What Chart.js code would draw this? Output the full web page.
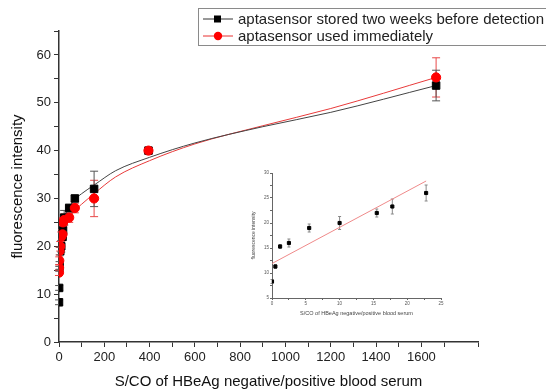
<!DOCTYPE html>
<html>
<head>
<meta charset="utf-8">
<script src="https://cdn.jsdelivr.net/npm/chart.js@4.4.1/dist/chart.umd.min.js"></script>
<style>
  html, body { margin: 0; padding: 0; background: #fff; }
  #wrap { position: relative; width: 546px; height: 391px; }
  #mainChart { position: absolute; left: 0; top: 0; }
  #insetChart { position: absolute; left: 246px; top: 166px; }
</style>
</head>
<body>
<div id="wrap">
  <canvas id="mainChart" width="546" height="391"></canvas>
  <canvas id="insetChart" width="200" height="156"></canvas>
</div>
<script>
// S/CO values of the serum samples
const sco = [0, 0.5, 1.2, 2.5, 5.5, 10, 15.5, 17.8, 22.8, 45, 70, 155, 395, 1665];
// fluorescence, aptasensor stored two weeks
const storedY = [8.3, 11.3, 15.3, 16, 19, 20, 22, 23.3, 26, 28, 30, 32, 40, 53.6];
const storedErr = [0.5, 0.5, 0.5, 0.8, 0.8, 1.2, 0.8, 1.5, 1.5, 0.8, 0.6, 3.7, 0.6, 3.2];
// fluorescence, aptasensor used immediately
const freshY = [14.5, 15.5, 17, 19, 20, 22, 22.5, 25, 25.5, 26, 28, 30, 40, 55.3];
const freshErr = [0.6, 0.6, 0.8, 0.8, 1, 1, 1, 1, 1.2, 1, 1, 3.8, 0.6, 4.1];

// fitted curves
const fitX = [20, 45, 70, 100, 155, 250, 400, 600, 900, 1200, 1665];
const storedFit = [25.8, 28.2, 29.8, 31, 32.8, 35.8, 38.6, 41.6, 45, 48, 53.6];
const freshFit = [23, 25.8, 27.5, 28.8, 31, 34.5, 37.9, 41.4, 45.2, 48.8, 55.3];

// inset: low S/CO range
const insetX = [0, 0.5, 1.2, 2.5, 5.5, 10, 15.5, 17.8, 22.8];
const insetY = [8.3, 11.3, 15.3, 16, 19, 20, 22, 23.3, 26];
const insetErr = [0.4, 0.4, 0.4, 0.8, 0.8, 1.3, 0.8, 1.5, 1.6];
const insetLineX = [0, 22.8];
const insetLineY = [11.9, 28.4];

const FONT = "'Liberation Sans', Arial, sans-serif";

function pts(xs, ys) {
  return xs.map((x, i) => ({ x: x, y: ys[i] }));
}

// error bars drawn under the markers
const errorBars = {
  id: 'errorBars',
  beforeDatasetsDraw(chart) {
    const ctx = chart.ctx;
    const ys = chart.scales.y;
    chart.data.datasets.forEach((ds, i) => {
      if (!ds.errors) return;
      const meta = chart.getDatasetMeta(i);
      ctx.save();
      ctx.strokeStyle = ds.errorColor;
      ctx.lineWidth = 1;
      meta.data.forEach((pt, j) => {
        const v = ds.data[j].y, e = ds.errors[j];
        const top = ys.getPixelForValue(v + e), bot = ys.getPixelForValue(v - e);
        const cap = ds.capWidth;
        ctx.beginPath();
        ctx.moveTo(pt.x, top); ctx.lineTo(pt.x, bot);
        ctx.moveTo(pt.x - cap, top); ctx.lineTo(pt.x + cap, top);
        ctx.moveTo(pt.x - cap, bot); ctx.lineTo(pt.x + cap, bot);
        ctx.stroke();
      });
      ctx.restore();
    });
  }
};

// boxed legend with line + marker samples
const boxLegend = {
  id: 'boxLegend',
  afterDraw(chart) {
    const ctx = chart.ctx;
    ctx.save();
    ctx.strokeStyle = '#8a8a8a';
    ctx.lineWidth = 1;
    ctx.strokeRect(198.5, 8.5, 360, 37);
    const rows = [
      { ds: chart.data.datasets[1], y: 19, line: '#333', shape: 'rect' },
      { ds: chart.data.datasets[0], y: 36, line: '#e83030', shape: 'circle' }
    ];
    ctx.font = '15px ' + FONT;
    ctx.textBaseline = 'middle';
    rows.forEach(r => {
      ctx.strokeStyle = r.line;
      ctx.beginPath();
      ctx.moveTo(203, r.y); ctx.lineTo(233, r.y);
      ctx.stroke();
      ctx.fillStyle = r.ds.pointBackgroundColor;
      if (r.shape === 'rect') {
        ctx.fillRect(214, r.y - 3.5, 7, 7);
      } else {
        ctx.beginPath();
        ctx.arc(218, r.y, 4.2, 0, Math.PI * 2);
        ctx.fill();
      }
      ctx.fillStyle = '#222';
      ctx.fillText(r.ds.label, 238, r.y + 0.5);
    });
    ctx.restore();
  }
};

new Chart(document.getElementById('mainChart'), {
  type: 'scatter',
  data: {
    datasets: [
      {
        label: 'aptasensor used immediately',
        data: pts(sco, freshY),
        errors: freshErr,
        errorColor: '#e84848',
        capWidth: 4,
        pointStyle: 'circle',
        pointRadius: 4.6,
        pointBackgroundColor: '#ff0000',
        pointBorderColor: '#ff0000',
        showLine: false
      },
      {
        label: 'aptasensor stored two weeks before detection',
        data: pts(sco, storedY),
        errors: storedErr,
        errorColor: '#555',
        capWidth: 4,
        pointStyle: 'rect',
        pointRadius: 5.3,
        pointBackgroundColor: '#000',
        pointBorderColor: '#000',
        showLine: false
      },
      {
        label: 'fit stored',
        data: pts(fitX, storedFit),
        showLine: true,
        borderColor: '#444',
        borderWidth: 1,
        pointRadius: 0,
        cubicInterpolationMode: 'monotone'
      },
      {
        label: 'fit fresh',
        data: pts(fitX, freshFit),
        showLine: true,
        borderColor: '#e83a3a',
        borderWidth: 1,
        pointRadius: 0,
        cubicInterpolationMode: 'monotone'
      }
    ]
  },
  options: {
    responsive: false,
    animation: false,
    layout: { padding: { top: 31, right: 68, left: 0, bottom: 0 } },
    plugins: { legend: { display: false }, tooltip: { enabled: false } },
    scales: {
      x: {
        type: 'linear',
        min: 0, max: 1850,
        afterFit: s => { s.height = 49; },
        border: { color: '#333', width: 1.5 },
        grid: { drawOnChartArea: false, tickLength: 5, color: '#333' },
        ticks: {
          stepSize: 100,
          autoSkip: false,
          maxRotation: 0,
          padding: 3,
          color: '#222',
          font: { family: FONT, size: 13 },
          callback: v => (v % 200 === 0 ? v : '')
        },
        title: {
          display: true,
          text: 'S/CO of HBeAg negative/positive blood serum',
          color: '#111',
          font: { family: FONT, size: 15 },
          padding: { top: 0, bottom: 0 }
        }
      },
      y: {
        min: 0, max: 65,
        afterFit: s => { s.width = 59; },
        border: { color: '#333', width: 1.5 },
        grid: { drawOnChartArea: false, tickLength: 5, color: '#333' },
        ticks: {
          stepSize: 5,
          autoSkip: false,
          padding: 3,
          color: '#222',
          font: { family: FONT, size: 13 },
          callback: v => (v % 10 === 0 ? v : '')
        },
        title: {
          display: true,
          text: 'fluorescence intensity',
          color: '#111',
          font: { family: FONT, size: 15 },
          padding: { top: 9, bottom: 0 }
        }
      }
    }
  },
  plugins: [errorBars, boxLegend]
});

new Chart(document.getElementById('insetChart'), {
  type: 'scatter',
  data: {
    datasets: [
      {
        label: 'aptasensor stored two weeks before detection',
        data: pts(insetX, insetY),
        errors: insetErr,
        errorColor: '#888',
        capWidth: 1.5,
        pointStyle: 'rect',
        pointRadius: 2.2,
        pointBackgroundColor: '#000',
        pointBorderColor: '#000',
        showLine: false
      },
      {
        label: 'linear fit',
        data: pts(insetLineX, insetLineY),
        showLine: true,
        borderColor: '#ef8a8a',
        borderWidth: 1,
        pointRadius: 0
      }
    ]
  },
  options: {
    responsive: false,
    animation: false,
    layout: { padding: { top: 7, right: 5, left: 0, bottom: 0 } },
    plugins: { legend: { display: false }, tooltip: { enabled: false } },
    scales: {
      x: {
        type: 'linear',
        min: 0, max: 25,
        afterFit: s => { s.height = 24; },
        border: { color: '#666', width: 1 },
        grid: { drawOnChartArea: false, tickLength: 2, color: '#666' },
        ticks: {
          stepSize: 2.5,
          autoSkip: false,
          maxRotation: 0,
          padding: 1,
          color: '#555',
          font: { family: FONT, size: 4.5 },
          callback: v => (v % 5 === 0 ? v : '')
        },
        title: {
          display: true,
          text: 'S/CO of HBeAg negative/positive blood serum',
          color: '#444',
          font: { family: FONT, size: 5.5 },
          padding: { top: 0, bottom: 5 }
        }
      },
      y: {
        min: 5, max: 30,
        afterFit: s => { s.width = 26; },
        border: { color: '#666', width: 1 },
        grid: { drawOnChartArea: false, tickLength: 2, color: '#666' },
        ticks: {
          stepSize: 2.5,
          autoSkip: false,
          padding: 1,
          color: '#555',
          font: { family: FONT, size: 4.5 },
          callback: v => (v % 5 === 0 ? v : '')
        },
        title: {
          display: true,
          text: 'fluorescence intensity',
          color: '#444',
          font: { family: FONT, size: 5 },
          padding: { top: 5, bottom: 0 }
        }
      }
    }
  },
  plugins: [errorBars]
});
</script>
</body>
</html>
